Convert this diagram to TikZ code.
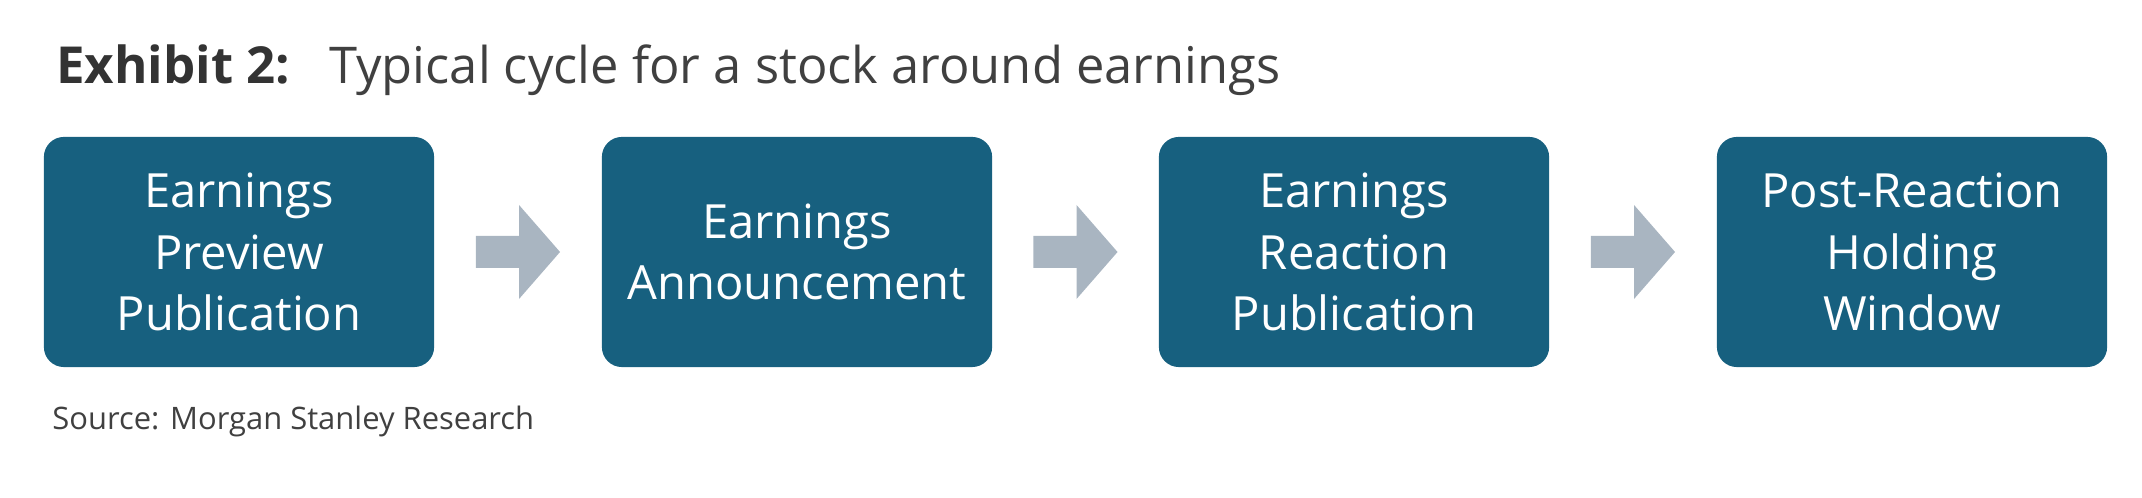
\documentclass[tikz,border=0pt]{standalone}
\usepackage{fontspec}
\usetikzlibrary{calc}
\setmainfont{Open Sans}
\definecolor{boxc}{HTML}{17607F}
\definecolor{arrc}{HTML}{A9B5C1}
\begin{document}
\begin{tikzpicture}[x=0.01cm,y=-0.01cm,
  box/.style={fill=boxc,rounded corners=0.2cm,minimum width=3.9cm,minimum height=2.3cm,text=white,align=center,font=\fontsize{13.4}{17.5}\selectfont,inner sep=0pt},
  arr/.style={fill=arrc,draw=none}]
\useasboundingbox (0,0) rectangle (2142,498);
\node[anchor=base west,font=\fontsize{14.5}{18}\selectfont\bfseries,text=black!80] (ex) at (44,84) {Exhibit 2:};
\node[anchor=base west,font=\fontsize{14.4}{18}\selectfont,text=black!75] (ti) at (317,84) {Typical cycle for a stock around earnings};
\node[box] (b1) at (239,252) {Earnings\\Preview\\Publication};
\node[box] (b2) at (797,252) {Earnings\\Announcement};
\node[box] (b3) at (1354,252) {Earnings\\Reaction\\Publication};
\node[box] (b4) at (1912,252) {Post-Reaction\\Holding\\Window};
\foreach \a/\b [count=\i] in {b1/b2,b2/b3,b3/b4}{
  \coordinate (m\i) at ($(\a.east)!0.5!(\b.west)$);
  \fill[arr] ([xshift=-0.42cm,yshift=0.16cm]m\i) -- ([xshift=0.01cm,yshift=0.16cm]m\i) -- ([xshift=0.01cm,yshift=0.47cm]m\i) -- ([xshift=0.42cm]m\i) -- ([xshift=0.01cm,yshift=-0.47cm]m\i) -- ([xshift=0.01cm,yshift=-0.16cm]m\i) -- ([xshift=-0.42cm,yshift=-0.16cm]m\i) -- cycle;
}
\node[anchor=base west,font=\fontsize{8.8}{11}\selectfont,text=black!75] (src) at (40,430) {Source: Morgan Stanley Research};
\end{tikzpicture}
\end{document}
